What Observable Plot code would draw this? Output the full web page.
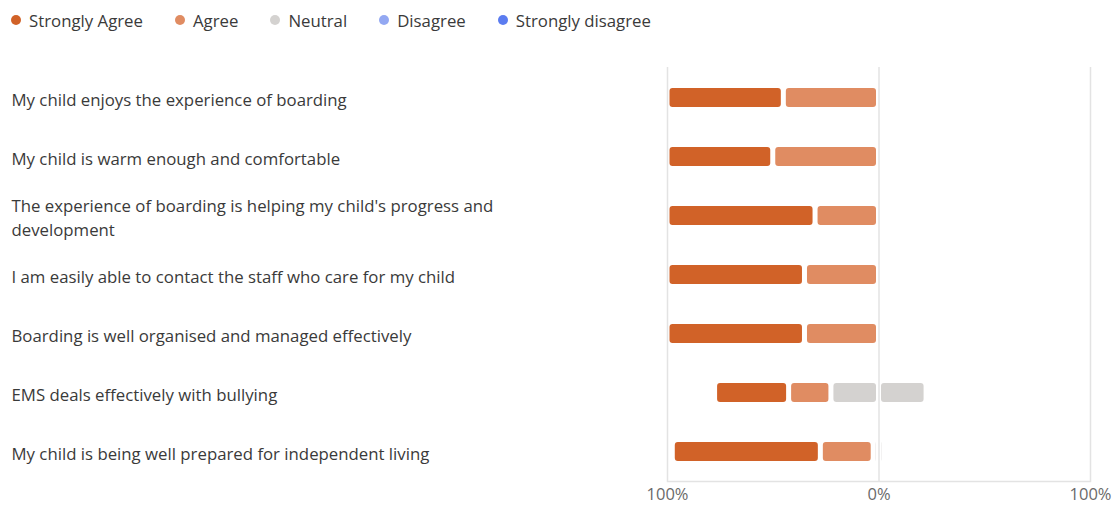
<!DOCTYPE html>
<html>
<head>
<meta charset="utf-8">
<script src="https://cdn.jsdelivr.net/npm/d3@7"></script>
<script src="https://cdn.jsdelivr.net/npm/@observablehq/plot@0.6"></script>
<style>
  html, body { margin: 0; padding: 0; background: #fff; }
  body { width: 1114px; height: 505px; overflow: hidden; font-family: "Open Sans", "Noto Sans", sans-serif; }
  #legend { height: 40px; display: flex; align-items: center; padding-left: 11px; font-size: 16.8px; color: #3a3a3a; }
  .item { display: flex; align-items: center; margin-right: 32px; }
  .dot { width: 10px; height: 10px; border-radius: 50%; margin-right: 8px; }
  #chart svg { display: block; }
</style>
</head>
<body>
<div id="legend"></div>
<div id="chart"></div>
<script>
const categories = [
  "My child enjoys the experience of boarding",
  "My child is warm enough and comfortable",
  "The experience of boarding is helping my child's progress and development",
  "I am easily able to contact the staff who care for my child",
  "Boarding is well organised and managed effectively",
  "EMS deals effectively with bullying",
  "My child is being well prepared for independent living"
];
const seriesNames = ["Strongly Agree", "Agree", "Neutral", "Disagree", "Strongly disagree"];
const seriesColors = ["#d16228", "#e08c62", "#d4d2d0", "#93a8f2", "#5b7cf0"];
const stronglyAgree    = [55, 50, 70, 65, 65, 35, 70];
const agree            = [45, 50, 30, 35, 35, 20, 25];
const neutral          = [0, 0, 0, 0, 0, 45, 5];
const disagree         = [0, 0, 0, 0, 0, 0, 0];
const stronglyDisagree = [0, 0, 0, 0, 0, 0, 0];
const xTicks = [-100, 0, 100];

// legend
const legend = document.getElementById("legend");
seriesNames.forEach((name, i) => {
  const it = document.createElement("div");
  it.className = "item";
  it.innerHTML = `<span class="dot" style="background:${seriesColors[i]}"></span><span>${name}</span>`;
  legend.appendChild(it);
});

// diverging segments
const segments = [];
categories.forEach((c, i) => {
  const n2 = neutral[i] / 2;
  let pos = 0;
  const left = [["Neutral", n2], ["Agree", agree[i]], ["Strongly Agree", stronglyAgree[i]]];
  for (const [s, v] of left) {
    if (v > 0) segments.push({cat: c, series: s, x1: -pos - v, x2: -pos});
    pos += v;
  }
  pos = 0;
  const right = [["Neutral", n2], ["Disagree", disagree[i]], ["Strongly disagree", stronglyDisagree[i]]];
  for (const [s, v] of right) {
    if (v > 0) segments.push({cat: c, series: s, x1: pos, x2: pos + v});
    pos += v;
  }
});

function wrap(s) {
  if (s.length <= 62) return s;
  const k = s.lastIndexOf(" ", 62);
  return s.slice(0, k) + "\n" + s.slice(k + 1);
}

const chart = Plot.plot({
  width: 1114,
  height: 465,
  marginLeft: 667,
  marginRight: 24,
  marginTop: 27,
  marginBottom: 24,
  style: {fontFamily: "'Open Sans', 'Noto Sans', sans-serif", background: "#fff"},
  x: {domain: [-100, 100], ticks: xTicks, tickFormat: d => Math.abs(d) + "%"},
  y: {domain: categories, paddingInner: 0.68, paddingOuter: 0.34, axis: null},
  color: {domain: seriesNames, range: seriesColors},
  marks: [
    Plot.ruleX(xTicks, {stroke: "#e3e3e3", strokeWidth: 1.5}),
    Plot.frame({anchor: "bottom", stroke: "#e3e3e3", strokeWidth: 1.5}),
    Plot.barX(segments, {x1: "x1", x2: "x2", y: "cat", fill: d => d.series, insetLeft: 2.5, insetRight: 2.5, rx: 3}),
    Plot.text(categories, {y: d => d, text: d => wrap(d), frameAnchor: "left", textAnchor: "start", dx: -656, dy: 0, fontSize: 16.8, fill: "#3a3a3a", lineHeight: 1.45}),
    Plot.axisX({ticks: xTicks, tickFormat: d => Math.abs(d) + "%", tickSize: 0, tickPadding: 7, fontSize: 16.5, color: "#6a6a6a"})
  ]
});
document.getElementById("chart").appendChild(chart);
</script>
</body>
</html>
